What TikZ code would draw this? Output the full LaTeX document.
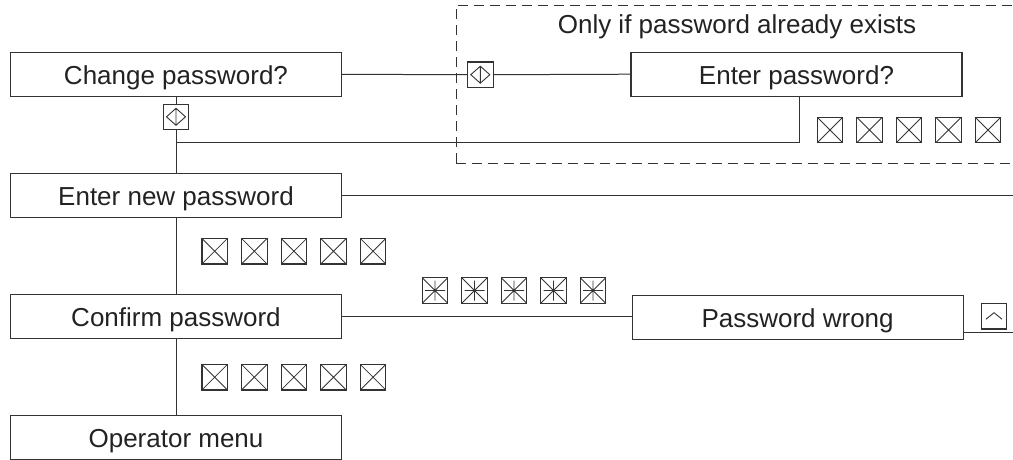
\documentclass[tikz,border=0pt]{standalone}
\usepackage{fontspec}
\setmainfont{Liberation Sans}
\usepackage{tikz}
\usetikzlibrary{positioning,calc}
\definecolor{pwline}{RGB}{51,51,51}
\definecolor{pwtext}{RGB}{34,34,34}
\tikzstyle{menubox} = [rectangle, minimum width=331pt, minimum height=44pt, inner sep=0pt, text centered, text height=20pt, text depth=0pt, draw=pwline, line width=1.1pt, text=pwtext, font=\fontsize{26}{30}\selectfont]
\tikzstyle{keybox} = [rectangle, minimum size=25.5pt, inner sep=0pt, draw=pwline, line width=1.1pt]
\tikzstyle{link} = [line width=1pt, color=pwline]
\tikzstyle{frame} = [line width=1pt, color=pwline, dash pattern=on 10pt off 6pt]
\tikzset{
  crossed/.style={keybox, path picture={
    \draw[pwline, line width=0.8pt] (path picture bounding box.south west) -- (path picture bounding box.north east)
      (path picture bounding box.north west) -- (path picture bounding box.south east);}},
  starred/.style={keybox, path picture={
    \coordinate (pc) at (path picture bounding box.center);
    \draw[pwline, line width=0.8pt] (path picture bounding box.south west) -- (path picture bounding box.north east)
      (path picture bounding box.north west) -- (path picture bounding box.south east)
      ([xshift=-10pt]pc) -- ([xshift=10pt]pc) ([yshift=-10pt]pc) -- ([yshift=10pt]pc);
    \fill[pwline] (pc) circle (1.6pt);}},
  diamondsym/.style={keybox, path picture={
    \coordinate (pc) at (path picture bounding box.center);
    \draw[pwline, line width=0.9pt] ([xshift=-9.5pt]pc) -- ([yshift=8.5pt]pc) -- ([xshift=9.5pt]pc) -- ([yshift=-8.5pt]pc) -- cycle
      ([yshift=8.5pt]pc) -- ([yshift=-8.5pt]pc);}},
  caretsym/.style={keybox, path picture={
    \coordinate (pc) at (path picture bounding box.center);
    \draw[pwline, line width=0.9pt] ([xshift=-8pt,yshift=-3pt]pc) -- ([yshift=3.5pt]pc) -- ([xshift=8pt,yshift=-3pt]pc);}}
}

\begin{document}
\begin{tikzpicture}[x=1pt, y=-1pt]
\useasboundingbox (0,0) rectangle (1013,459);
\clip (0,0) rectangle (1013,459);

% dashed region
\draw[frame] (456,163) -- (456,5) -- (1030,5);
\draw[frame] (456,163) -- (1030,163);
\node[text=pwtext, text height=20pt, text depth=0pt, font=\fontsize{26}{30}\selectfont] (cond) at (737,23) {Only if password already exists};

% menu boxes
\node[menubox] (chg) at (176,74.3) {Change password?};
\node[menubox] (newpw) at (176,195.3) {Enter new password};
\node[menubox] (conf) at (176,316.8) {Confirm password};
\node[menubox] (opmenu) at (176,437.8) {Operator menu};
\node[menubox] (oldpw) at (796.5,74.2) {Enter password?};
\node[menubox] (wrong) at (797.6,317.8) {Password wrong};

% keys
\node[diamondsym] (chgkey) at (176,116.8) {};
\node[diamondsym] (gatekey) at (480.3,74.7) {};
\node[caretsym] (backkey) at (994,316.2) {};
\foreach \i in {0,...,4} {
  \node[crossed] (oldkey\i) at (830+39.5*\i,130) {};
  \node[crossed] (newkey\i) at (214.7+39.6*\i,251.2) {};
  \node[crossed] (confkey\i) at (214.7+39.6*\i,377.2) {};
  \node[starred] (wrongkey\i) at (435+39.5*\i,290.5) {};
}

% connectors
\coordinate (join) at (176,142.3);
\coordinate (newout) at (1013,195.3);
\coordinate (wrongout) at (1013,332.3);
\draw[link] (chg.east) -- (gatekey.west);
\draw[link] (gatekey.east) -- (oldpw.west);
\draw[link] (chg.south) -- (chgkey.north);
\draw[link] (chgkey.south) -- (newpw.north);
\draw[link] ([xshift=2.5pt]oldpw.south) |- (join);
\draw[link] (newpw.east) -- (newout);
\draw[link] (newpw.south) -- (conf.north);
\draw[link] (conf.east) -- (conf.east -| wrong.west);
\draw[link] (conf.south) -- (opmenu.north);
\draw[link] (wrong.east |- wrongout) -- (wrongout);
\end{tikzpicture}
\end{document}
